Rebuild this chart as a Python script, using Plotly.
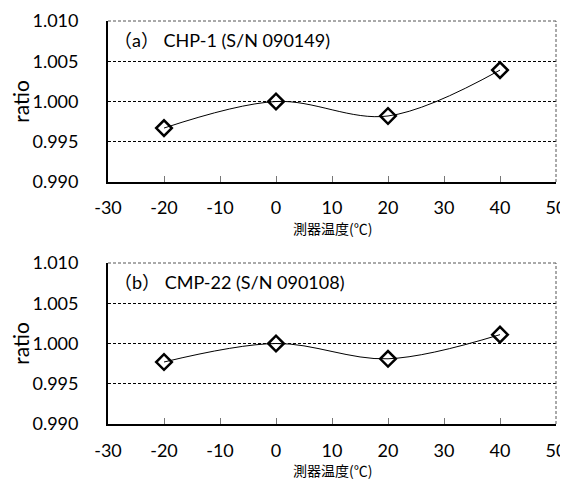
import plotly.graph_objects as go

temps = [-20, 0, 20, 40]
ratio_a = [0.9967, 1.0000, 0.9982, 1.0039]
ratio_b = [0.9977, 1.0000, 0.9981, 1.0011]
titles = ["（a） CHP-1 (S/N 090149)", "（b） CMP-22 (S/N 090108)"]
xtitle = "測器温度(℃)"
ytitle = "ratio"
xticks = [-30, -20, -10, 0, 10, 20, 30, 40, 50]
xticktext = ["-30", "-20", "-10", "0", "10", "20", "30", "40", "50"]
yticks = [0.990, 0.995, 1.000, 1.005, 1.010]

fig = go.Figure()
tick_font = dict(family="Lato, Noto Sans, sans-serif", size=18, color="black")

for i, (vals, ttl) in enumerate(zip([ratio_a, ratio_b], titles)):
    xa = "x" if i == 0 else "x2"
    ya = "y" if i == 0 else "y2"
    fig.add_trace(go.Scatter(
        x=temps, y=vals, xaxis=xa, yaxis=ya,
        mode="lines+markers",
        line=dict(shape="spline", smoothing=1.0, color="black", width=1),
        marker=dict(symbol="diamond-open", size=12, color="black", line=dict(width=2.5, color="black")),
        showlegend=False,
    ))
    fig.add_shape(type="line", xref=f"{xa} domain", yref=f"{ya} domain", x0=0, x1=1, y0=1, y1=1,
                  line=dict(color="#555", width=1, dash="3px,2px"))
    fig.add_shape(type="line", xref=f"{xa} domain", yref=f"{ya} domain", x0=1, x1=1, y0=0, y1=1,
                  line=dict(color="#555", width=1, dash="3px,2px"))
    fig.add_annotation(text=ttl, xref=f"{xa} domain", yref=f"{ya} domain", x=0.008, y=0.88,
                       xanchor="left", yanchor="middle", showarrow=False,
                       font=dict(family="Lato, Noto Sans CJK JP, sans-serif", size=18, color="black"))
    fig.add_annotation(text=xtitle, xref=f"{xa} domain", yref=f"{ya} domain", x=0.5, y=-0.285,
                       xanchor="center", yanchor="middle", showarrow=False,
                       font=dict(family="Noto Sans CJK JP", size=14, color="black"))

axis_x = dict(range=[-30, 50], tickvals=xticks, ticktext=xticktext, ticks="inside", ticklen=6,
              tickwidth=1, tickcolor="#777",
              showline=True, linecolor="black", linewidth=1.8, showgrid=False, zeroline=False,
              tickfont=tick_font, ticklabelstandoff=9, automargin=False)
axis_y = dict(range=[0.990, 1.010], tickvals=yticks, tickformat=".3f", ticks="",
              showline=True, linecolor="black", linewidth=1.8, showgrid=True,
              gridcolor="black", griddash="3px,2px", gridwidth=1, zeroline=False,
              tickfont=tick_font, ticklabelstandoff=24, automargin=False,
              title=dict(text=ytitle, font=dict(family="Lato, Noto Sans, sans-serif", size=21, color="black"),
                         standoff=6))

fig.update_layout(
    width=560, height=475,
    margin=dict(l=100, r=12, t=13, b=59),
    paper_bgcolor="white", plot_bgcolor="white",
    xaxis=dict(axis_x, domain=[0, 1], anchor="y"),
    yaxis=dict(axis_y, domain=[0.6005, 1], anchor="x"),
    xaxis2=dict(axis_x, domain=[0, 1], anchor="y2"),
    yaxis2=dict(axis_y, domain=[0, 0.3995], anchor="x2"),
)

fig.write_html("out.html")
